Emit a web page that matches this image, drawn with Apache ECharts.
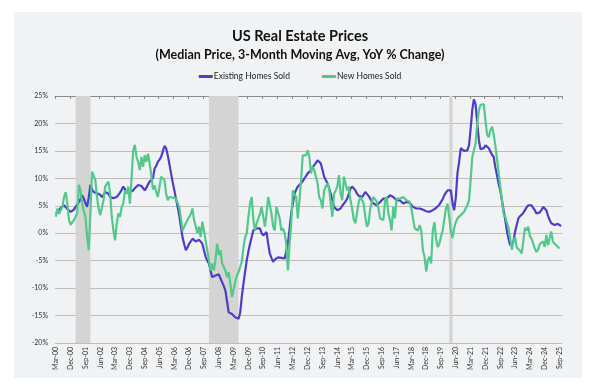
<!DOCTYPE html>
<html><head><meta charset="utf-8">
<script src="https://cdn.jsdelivr.net/npm/echarts@6/dist/echarts.min.js"></script>
<style>html,body{margin:0;padding:0;background:#fff}#c{width:600px;height:389px}</style>
</head><body><div id="c"></div>
<script>
// Monthly categories Mar-00 .. Oct-25
const monthNames = ['Jan','Feb','Mar','Apr','May','Jun','Jul','Aug','Sep','Oct','Nov','Dec'];
const categories = [];
for (let y = 2000; y <= 2025; y++) {
  for (let m = 0; m < 12; m++) {
    if (y === 2000 && m < 2) continue;
    if (y === 2025 && m > 9) continue;
    categories.push(monthNames[m] + '-' + String(y % 100).padStart(2, '0'));
  }
}

// Existing Homes Sold, YoY % (3-mo moving avg), one line per calendar year
const existingHomes = [
  3.6, 3.9, 4.2, 4.6, 4.9, 5.1, 4.8, 4.4, 4.1, 3.9,
  3.9, 4.3, 4.8, 5.2, 5.4, 6.2, 6.9, 6.3, 5.5, 4.8, 6.5, 8.8,
  8.0, 7.5, 7.4, 7.3, 7.2, 7.0, 6.6, 7.0, 7.5, 7.8, 7.2, 6.6,
  6.3, 6.4, 6.5, 6.6, 7.0, 7.4, 7.9, 8.5, 8.0, 7.5, 7.4, 7.5,
  7.5, 7.8, 8.2, 8.5, 8.8, 9.1, 8.6, 8.2, 7.8, 8.3, 8.9, 9.4,
  9.7, 10.0, 11.8, 12.3, 13.0, 13.4, 13.9, 14.9, 15.9, 15.5, 14.2, 12.6,
  10.9, 9.3, 7.8, 6.3, 4.8, 3.2, 1.2, -0.8, -2.0, -3.1, -2.6, -1.9,
  -1.5, -1.0, -1.2, -1.5, -1.4, -1.2, -1.0, -1.9, -3.1, -4.3, -5.0, -5.5,
  -6.8, -8.0, -7.8, -7.7, -7.6, -7.5, -8.2, -8.9, -9.6, -10.4, -12.4, -14.4,
  -14.5, -14.7, -15.0, -15.3, -15.4, -15.6, -14.5, -11.5, -9.2, -7.0, -4.9, -3.3,
  -1.9, -0.7, 0.5, 0.7, 0.9, 0.9, 0.9, 0.0, -0.4, -0.2, 0.2, -1.9,
  -3.7, -4.5, -5.2, -4.8, -4.6, -4.4, -4.3, -4.5, -4.6, -4.6, -4.6, -1.9,
  0.8, 3.6, 5.4, 7.2, 7.9, 8.5, 8.8, 9.1, 9.5, 10.0, 10.4, 10.9,
  11.2, 11.5, 12.0, 12.4, 12.8, 13.3, 13.0, 12.7, 11.5, 10.3, 9.7, 9.1,
  8.2, 7.2, 6.0, 4.8, 4.5, 4.2, 4.3, 4.5, 5.0, 5.4, 5.8, 6.3,
  7.2, 8.1, 8.5, 8.5, 7.8, 7.2, 6.8, 6.6, 6.6, 7.0, 7.5, 7.2,
  6.8, 6.3, 5.8, 5.4, 5.2, 5.1, 5.4, 5.7, 6.0, 6.3, 6.3, 6.3,
  6.6, 6.9, 6.8, 6.6, 6.3, 6.0, 6.0, 6.0, 5.8, 5.4, 5.5, 5.7,
  5.6, 5.5, 5.2, 4.8, 4.6, 4.5, 4.5, 4.5, 4.5, 4.3, 4.2, 4.0,
  3.9, 3.9, 4.0, 4.2, 4.4, 4.6, 4.8, 5.2, 5.7, 6.2, 6.9, 7.4,
  7.8, 7.8, 7.8, 5.5, 4.2, 6.5, 11.0, 13.0, 15.5, 15.5, 15.0, 15.1,
  15.1, 16.0, 19.0, 22.5, 24.4, 23.5, 20.0, 17.0, 15.3, 15.2, 15.5, 16.0,
  16.1, 15.5, 14.9, 14.3, 13.9, 12.0, 10.6, 9.0, 7.8, 6.0, 4.2, 2.5,
  0.5, -1.0, -2.2, -2.1, -1.5, 0.3, 1.5, 2.7, 3.1, 3.3, 3.7, 4.2,
  4.7, 5.1, 5.1, 5.1, 4.6, 4.2, 3.6, 3.3, 3.8, 4.2, 4.8, 4.6,
  4.2, 3.2, 2.4, 1.8, 1.5, 1.5, 1.5, 1.7, 1.8, 1.3
];

// New Homes Sold, YoY % (3-mo moving avg), one line per calendar year
const newHomes = [
  3.0, 4.5, 3.5, 4.2, 4.8, 6.6, 7.5, 5.4, 2.4, 1.5,
  2.0, 2.4, 3.0, 3.6, 8.8, 7.8, 5.4, 4.0, 3.0, -0.7, -3.1, 3.5,
  11.2, 10.9, 9.7, 6.6, 4.5, 3.3, 3.3, 6.0, 8.5, 9.0, 9.4, 7.2,
  3.0, 0.5, -1.3, 1.8, 3.6, 3.0, 4.8, 5.4, 7.8, 7.2, 8.5, 5.4,
  10.0, 15.1, 16.1, 13.9, 13.0, 11.5, 13.9, 12.1, 14.2, 13.0, 14.5, 12.7,
  10.6, 8.0, 8.7, 7.5, 6.6, 8.5, 10.3, 10.6, 9.7, 7.2, 6.0, 6.6,
  6.6, 6.5, 6.4, 6.3, 5.5, 4.8, 2.7, 0.5, 1.2, 1.8, 2.4, 2.7,
  3.5, 4.5, 2.4, 1.2, 0.0, 1.2, -0.7, 2.1, 0.5, -1.3, -3.1, -4.9,
  -6.8, -5.5, -6.8, -4.9, -1.9, -4.0, -3.1, -5.5, -6.1, -6.8, -8.0, -7.1,
  -9.2, -11.6, -11.9, -8.9, -7.7, -7.1, -6.8, -5.2, -2.5, -0.7, 0.0, 3.0,
  5.5, 6.6, 2.5, 0.5, 1.8, 2.1, 3.5, 4.8, 3.0, 1.2, 3.5, 6.6,
  5.1, 3.6, 1.2, 0.5, 4.8, 4.8, 2.7, 0.5, 0.9, 0.0, -2.0, -6.8,
  -1.9, 1.8, 7.8, 7.0, 6.6, 2.7, 6.0, 9.7, 14.2, 13.9, 14.2, 15.1,
  13.9, 10.9, 12.1, 11.5, 11.8, 9.1, 6.6, 6.0, 4.5, 7.8, 8.5, 9.1,
  8.2, 5.4, 3.0, 7.2, 7.8, 8.5, 10.6, 7.2, 6.0, 10.3, 10.0, 7.8,
  8.5, 6.0, 4.5, 2.5, 1.8, 1.5, 5.7, 6.6, 6.0, 5.4, 3.0, 1.2,
  1.8, 4.5, 5.8, 6.6, 6.6, 5.7, 4.5, 2.7, 3.0, 2.4, 6.0, 6.6,
  3.6, 2.4, 0.5, 4.8, 2.7, 6.3, 6.0, 6.3, 6.0, 6.6, 6.3, 6.0,
  6.0, 5.7, 4.5, 2.7, 0.9, 1.2, 0.5, 1.5, 0.5, -3.1, -4.3, -7.0,
  -4.9, -4.3, -5.5, 0.5, 2.0, -1.0, -2.5, -1.9, -0.6, 0.5, 2.5, 4.5,
  5.4, 3.0, 0.3, -0.9, 1.0, 2.0, 2.7, 2.7, 3.3, 3.0, 3.9, 3.6,
  5.1, 6.0, 9.7, 13.9, 15.1, 16.4, 20.0, 22.4, 23.4, 23.6, 23.5, 20.5,
  18.0, 17.5, 18.8, 19.4, 18.0, 16.0, 13.5, 11.0, 8.5, 6.0, 3.5, 3.0,
  3.2, 1.0, -1.0, -3.0, -1.5, -0.7, -2.6, -2.5, -3.2, -3.7, -1.5, 1.0,
  0.5, 1.2, -0.5, -1.0, -0.8, -2.8, -3.4, -3.0, -2.0, -2.2, -1.5, -2.5,
  -0.3, -2.2, -2.2, 0.3, -1.6, -1.9, -2.2, -2.4, -2.8, null
];

// Recession shading periods
const recessions = [['Mar-01', 'Dec-01'], ['Dec-07', 'Jun-09'], ['Feb-20', 'Apr-20']];

const seriesNames = ['Existing Homes Sold', 'New Homes Sold'];
const yMin = -20, yMax = 25, yStep = 5;

const FONT = 'Lato';
const chart = echarts.init(document.getElementById('c'), null, { renderer: 'canvas' });
chart.setOption({
  backgroundColor: '#ffffff',
  animation: false,
  graphic: [{
    type: 'rect', silent: true, z: -10,
    shape: { x: 14, y: 12, width: 568, height: 366 },
    style: { fill: '#f1f2f4' }
  }],
  title: [
    { text: 'US Real Estate Prices', left: 'center', top: 29, padding: 0,
      textStyle: { fontFamily: FONT, fontWeight: 'bold', fontSize: 14.5, color: '#111' } },
    { text: '(Median Price, 3-Month Moving Avg, YoY % Change)', left: 'center', top: 48, padding: 0,
      textStyle: { fontFamily: FONT, fontWeight: 'bold', fontSize: 12.5, color: '#111' } }
  ],
  legend: {
    left: 'center', top: 67, itemWidth: 14, itemHeight: 3, itemGap: 32, icon: 'rect',
    data: seriesNames,
    textStyle: { fontFamily: FONT, fontSize: 8.5, color: '#222', padding: [0, 0, 0, -4] }
  },
  grid: { left: 55, right: 38, top: 96, bottom: 46 },
  xAxis: [
    { type: 'category', data: categories, boundaryGap: true,
      axisLine: { show: false }, axisTick: { show: false }, splitLine: { show: false },
      axisLabel: { interval: 8, rotate: 90, fontSize: 7, color: '#333', margin: 4, fontFamily: FONT } },
    { type: 'category', data: categories, boundaryGap: true, position: 'top',
      axisLine: { show: true, onZero: true, lineStyle: { color: '#8a8a8a', width: 1 } },
      axisTick: { show: true, interval: 8, inside: true, length: 3, lineStyle: { color: '#8a8a8a' } },
      axisLabel: { show: false }, splitLine: { show: false } }
  ],
  yAxis: {
    type: 'value', min: yMin, max: yMax, interval: yStep,
    axisLine: { show: false }, axisTick: { show: false },
    axisLabel: { formatter: '{value}%', fontSize: 7, color: '#333', margin: 7, fontFamily: FONT },
    splitLine: { lineStyle: { color: '#bdbdbd', width: 1 } }
  },
  series: [
    { name: seriesNames[0], type: 'line', data: existingHomes, xAxisIndex: 0,
      showSymbol: false, symbol: 'none',
      lineStyle: { color: '#4b3fc6', width: 2.2 }, itemStyle: { color: '#4b3fc6' },
      markArea: { silent: true, itemStyle: { color: '#d4d4d4' },
        data: recessions.map(r => [{ xAxis: r[0] }, { xAxis: r[1] }]) } },
    { name: seriesNames[1], type: 'line', data: newHomes, xAxisIndex: 0,
      showSymbol: false, symbol: 'none',
      lineStyle: { color: '#52c98b', width: 2.2 }, itemStyle: { color: '#52c98b' } }
  ]
});
</script>
</body></html>
